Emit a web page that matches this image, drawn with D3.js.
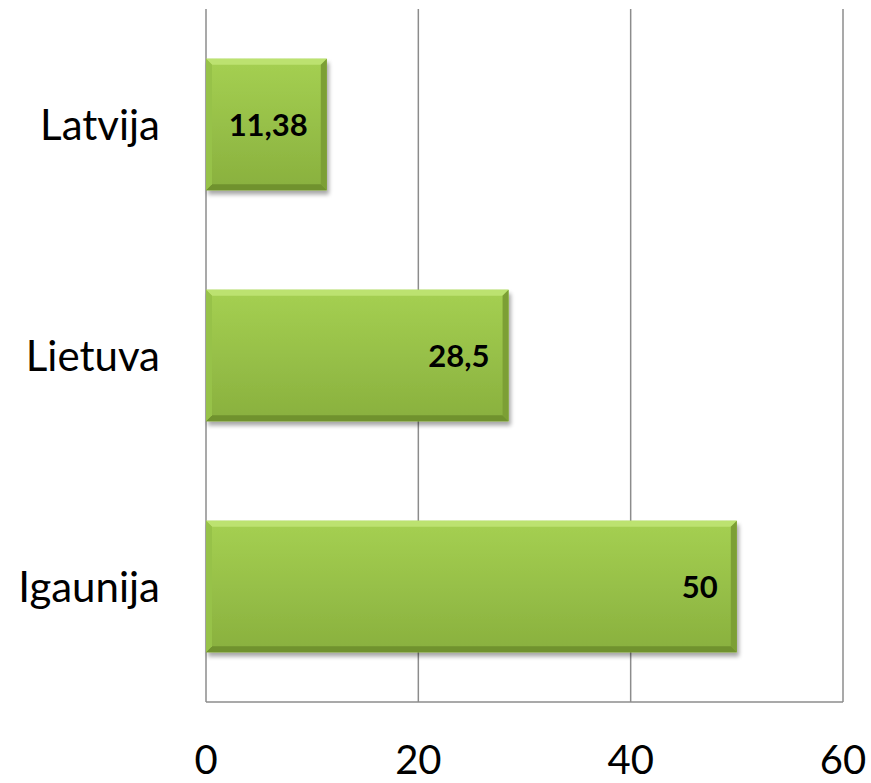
<!DOCTYPE html>
<html>
<head>
<meta charset="utf-8">
<script src="https://cdn.jsdelivr.net/npm/d3@7"></script>
<style>
  html, body { margin: 0; padding: 0; background: #fff; }
  svg { display: block; }
</style>
</head>
<body>
<svg id="chart" width="871" height="783"></svg>
<script>
const categories = ["Latvija", "Lietuva", "Igaunija"];
const values = [11.38, 28.5, 50];
const valueLabels = ["11,38", "28,5", "50"];
const xTicks = [0, 20, 40, 60];

const W = 871, H = 783;
const margin = { left: 206, right: 28, top: 9, bottom: 81 };
const svg = d3.select("#chart");
const defs = svg.append("defs");

const x = d3.scaleLinear().domain([0, 60]).range([margin.left, W - margin.right]);
const y = d3.scaleBand().domain(categories).range([margin.top, H - margin.bottom]).paddingInner(0.43).paddingOuter(0.215);

const bodyGrad = defs.append("linearGradient").attr("id", "body").attr("x1", 0).attr("y1", 0).attr("x2", 0).attr("y2", 1);
bodyGrad.append("stop").attr("offset", "0%").attr("stop-color", "#a5d052");
bodyGrad.append("stop").attr("offset", "100%").attr("stop-color", "#89b03e");

const sh = defs.append("filter").attr("id", "shadow").attr("x", "-10%").attr("y", "-10%").attr("width", "130%").attr("height", "140%");
sh.append("feGaussianBlur").attr("in", "SourceAlpha").attr("stdDeviation", 2.2);
sh.append("feOffset").attr("dx", 2).attr("dy", 4).attr("result", "ob");
sh.append("feComponentTransfer").append("feFuncA").attr("type", "linear").attr("slope", 0.35);
const mg = sh.append("feMerge");
mg.append("feMergeNode");
mg.append("feMergeNode").attr("in", "SourceGraphic");

// gridlines
const grid = svg.append("g");
grid.selectAll("line.g").data(xTicks).join("line")
  .attr("x1", d => x(d)).attr("x2", d => x(d))
  .attr("y1", margin.top).attr("y2", H - margin.bottom)
  .attr("stroke", "#8c8c8c").attr("stroke-width", 1.5);
grid.append("line")
  .attr("x1", x(0)).attr("x2", x(60))
  .attr("y1", H - margin.bottom).attr("y2", H - margin.bottom)
  .attr("stroke", "#8c8c8c").attr("stroke-width", 1.5);

// bars
const data = categories.map((c, i) => ({ c, v: values[i], label: valueLabels[i] }));
const bw = 6;
const bars = svg.append("g").selectAll("g").data(data).join("g").attr("filter", "url(#shadow)");
bars.each(function(d) {
  const g = d3.select(this);
  const x0 = x(0), x1 = x(d.v), y0 = y(d.c), y1 = y(d.c) + y.bandwidth();
  g.append("rect").attr("x", x0).attr("y", y0).attr("width", x1 - x0).attr("height", y1 - y0).attr("fill", "url(#body)");
  g.append("polygon").attr("points", [[x0, y0], [x1, y0], [x1 - bw, y0 + bw], [x0 + bw, y0 + bw]].join(" ")).attr("fill", "#bce270");
  g.append("polygon").attr("points", [[x0, y1], [x1, y1], [x1 - bw, y1 - bw], [x0 + bw, y1 - bw]].join(" ")).attr("fill", "#6f922e");
  g.append("polygon").attr("points", [[x1, y0], [x1, y1], [x1 - bw, y1 - bw], [x1 - bw, y0 + bw]].join(" ")).attr("fill", "#7c9f35");
  g.append("polygon").attr("points", [[x0, y0], [x0, y1], [x0 + bw, y1 - bw], [x0 + bw, y0 + bw]].join(" ")).attr("fill", "#97c248");
});

// value labels
svg.append("g").selectAll("text").data(data).join("text")
  .attr("x", d => x(d.v) - 19)
  .attr("y", d => y(d.c) + y.bandwidth() / 2)
  .attr("dy", "0.36em")
  .attr("text-anchor", "end")
  .attr("font-family", "Lato, 'Open Sans', sans-serif")
  .attr("font-weight", "bold")
  .attr("font-size", 31)
  .attr("fill", "#000")
  .text(d => d.label);

// category labels
svg.append("g").selectAll("text").data(categories).join("text")
  .attr("x", x(0) - 46)
  .attr("y", d => y(d) + y.bandwidth() / 2)
  .attr("dy", "0.36em")
  .attr("text-anchor", "end")
  .attr("font-family", "Lato, 'Open Sans', sans-serif")
  .attr("font-size", 42)
  .attr("fill", "#000")
  .text(d => d);

// tick labels
svg.append("g").selectAll("text").data(xTicks).join("text")
  .attr("x", d => x(d))
  .attr("y", 774)
  .attr("text-anchor", "middle")
  .attr("font-family", "Lato, 'Open Sans', sans-serif")
  .attr("font-size", 40)
  .attr("fill", "#000")
  .text(d => d);
</script>
</body>
</html>
